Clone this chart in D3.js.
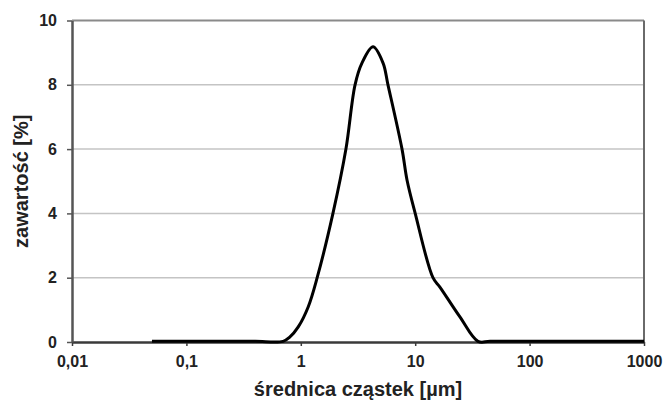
<!DOCTYPE html>
<html>
<head>
<meta charset="utf-8">
<script src="https://cdn.jsdelivr.net/npm/d3@7"></script>
<style>
  body { margin: 0; background: #fff; }
  text { font-family: "Liberation Sans", Arial, sans-serif; font-weight: bold; fill: #222; }
</style>
</head>
<body>
<script>
// particle size distribution
const diameters = [0.05, 0.1, 0.2, 0.4, 0.7, 0.8, 0.95, 1.16, 1.39, 1.91, 2.48, 2.98, 3.43, 4.28, 5.23, 5.78, 7.67, 8.48, 10, 14.3, 16.5, 24.6, 35.4, 45, 100, 300, 1000];
const contents  = [0.02, 0.02, 0.02, 0.02, 0.02, 0.15, 0.47, 1.09, 2.0, 4.0, 6.0, 8.0, 8.68, 9.18, 8.68, 8.0, 6.0, 5.04, 4.0, 2.0, 1.7, 0.78, 0.02, 0.02, 0.02, 0.02, 0.02];
const xTicks = [0.01, 0.1, 1, 10, 100, 1000];
const xTickLabels = ['0,01', '0,1', '1', '10', '100', '1000'];
const yTicks = [0, 2, 4, 6, 8, 10];

const margin = { top: 20.5, right: 24, bottom: 58, left: 72 };
const width = 668 - margin.left - margin.right;
const height = 400 - margin.top - margin.bottom;

const svg = d3.select('body').append('svg')
	.attr('width', 668)
	.attr('height', 400);

const g = svg.append('g')
	.attr('transform', `translate(${margin.left}, ${margin.top})`);

const x = d3.scaleLog().domain([0.01, 1000]).range([0, width]);
const y = d3.scaleLinear().domain([0, 10]).range([height, 0]);

// gridlines
g.append('g')
	.selectAll('line')
	.data(yTicks.filter(d => d > 0 && d < 10))
	.enter().append('line')
	.attr('x1', 0).attr('x2', width)
	.attr('y1', d => y(d)).attr('y2', d => y(d))
	.attr('stroke', '#c4c4c4')
	.attr('stroke-width', 1.5);

// top and right frame
g.append('line').attr('x1', 0).attr('x2', width).attr('y1', 0).attr('y2', 0)
	.attr('stroke', '#8a8a8a').attr('stroke-width', 2);
g.append('line').attr('x1', width).attr('x2', width).attr('y1', 0).attr('y2', height)
	.attr('stroke', '#6a6a6a').attr('stroke-width', 2);

const xAxis = d3.axisBottom(x)
	.tickValues(xTicks)
	.tickFormat((d, i) => xTickLabels[i])
	.tickSizeInner(4)
	.tickSizeOuter(0)
	.tickPadding(10);

const yAxis = d3.axisLeft(y)
	.tickValues(yTicks)
	.tickSizeInner(5)
	.tickSizeOuter(0)
	.tickPadding(10);

const gx = g.append('g')
	.attr('transform', `translate(0, ${height})`)
	.call(xAxis);
gx.select('.domain').attr('stroke', '#3a3a3a').attr('stroke-width', 2.5);
gx.selectAll('.tick line').attr('stroke', '#3a3a3a').attr('stroke-width', 1.5);
gx.selectAll('text').style('font-size', '16px').attr('fill', '#222');

const gy = g.append('g').call(yAxis);
gy.select('.domain').attr('stroke', '#555').attr('stroke-width', 2.5);
gy.selectAll('.tick line').attr('stroke', '#555').attr('stroke-width', 1.5);
gy.selectAll('text').style('font-size', '16px').attr('fill', '#222');

// curve
const line = d3.line()
	.x((d, i) => x(diameters[i]))
	.y(d => y(d))
	.curve(d3.curveCatmullRom.alpha(0.5));

g.append('path')
	.datum(contents)
	.attr('fill', 'none')
	.attr('stroke', '#000')
	.attr('stroke-width', 3)
	.attr('stroke-linejoin', 'round')
	.attr('d', line);

// axis titles
svg.append('text')
	.attr('x', margin.left + width / 2)
	.attr('y', 396)
	.style('text-anchor', 'middle')
	.style('font-size', '20px')
	.text('średnica cząstek [µm]');

svg.append('text')
	.attr('transform', `translate(28, ${margin.top + height / 2}) rotate(-90)`)
	.style('text-anchor', 'middle')
	.style('font-size', '20px')
	.text('zawartość [%]');
</script>
</body>
</html>
